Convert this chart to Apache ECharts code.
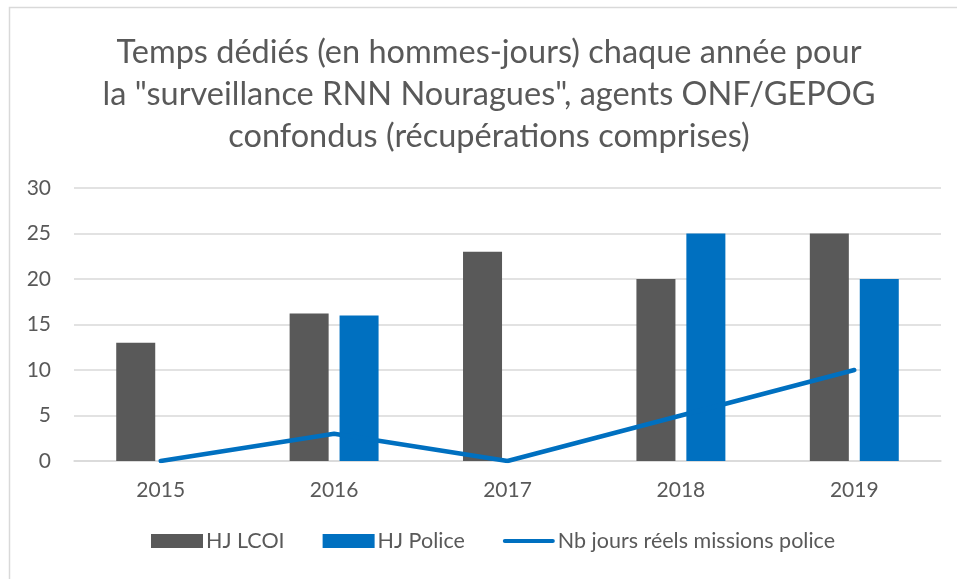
<!DOCTYPE html>
<html>
<head>
<meta charset="utf-8">
<script src="https://cdn.jsdelivr.net/npm/echarts@6/dist/echarts.min.js"></script>
<style>
  html, body { margin: 0; padding: 0; background: #fff; }
  #chart { width: 957px; height: 579px; }
</style>
</head>
<body>
<div id="chart"></div>
<script>
// données
const annees = ["2015", "2016", "2017", "2018", "2019"];
const hjLcoi = [13, 16.2, 23, 20, 25];
const hjPolice = [null, 16, null, 25, 20];
const joursMissions = [0, 3, 0, 5, 10];
const yTicks = { min: 0, max: 30, interval: 5 };

const police = "Lato, 'Open Sans', sans-serif";
const gris = "#595959";
// trait arrondi pour la légende de la courbe (boîte 52x14)
const iconeTrait = "path://M0,0M52,14M2,5L50,5Q52,5 52,7Q52,9 50,9L2,9Q0,9 0,7Q0,5 2,5Z";

const chart = echarts.init(document.getElementById("chart"));

const option = {
  animation: false,
  textStyle: { fontFamily: police },
  graphic: [
    {
      type: "rect",
      shape: { x: 9.5, y: 7.5, width: 1000, height: 1000 },
      style: { fill: "none", stroke: "#d9d9d9", lineWidth: 1.5 },
      silent: true
    }
  ],
  title: {
    text: 'Temps dédiés (en hommes-jours) chaque année pour\nla "surveillance RNN Nouragues", agents ONF/GEPOG\nconfondus (récupérations comprises)',
    left: 484,
    textAlign: "center",
    top: 27,
    textStyle: {
      fontFamily: police,
      fontSize: 32.5,
      fontWeight: "normal",
      color: gris,
      lineHeight: 42
    }
  },
  grid: { left: 74, right: 16, top: 188, bottom: 118 },
  legend: {
    bottom: 22,
    left: 146,
    itemWidth: 52,
    itemHeight: 14,
    itemGap: 38,
    textStyle: { fontFamily: police, fontSize: 21.5, color: gris, padding: [0, 0, 0, -2] },
    data: [
      { name: "HJ LCOI", icon: "rect" },
      { name: "HJ Police", icon: "rect" },
      { name: "Nb jours réels missions police", icon: iconeTrait }
    ]
  },
  xAxis: {
    type: "category",
    data: annees,
    axisLine: { lineStyle: { color: "#d9d9d9", width: 1.5 } },
    axisTick: { show: false },
    axisLabel: { color: gris, fontSize: 21, margin: 19, fontFamily: police }
  },
  yAxis: {
    type: "value",
    min: yTicks.min,
    max: yTicks.max,
    interval: yTicks.interval,
    axisLine: { show: false },
    axisTick: { show: false },
    splitLine: { lineStyle: { color: "#d9d9d9", width: 1.5 } },
    axisLabel: { color: gris, fontSize: 21, margin: 23, fontFamily: police }
  },
  series: [
    {
      name: "HJ LCOI",
      type: "bar",
      data: hjLcoi,
      barWidth: "22.5%",
      barGap: "28%",
      itemStyle: { color: "#595959" }
    },
    {
      name: "HJ Police",
      type: "bar",
      data: hjPolice,
      barWidth: "22.5%",
      itemStyle: { color: "#0070c0" }
    },
    {
      name: "Nb jours réels missions police",
      type: "line",
      data: joursMissions,
      symbol: "none",
      itemStyle: { color: "#0070c0" },
      lineStyle: { color: "#0070c0", width: 4.5, cap: "round", join: "round" },
      z: 5
    }
  ]
};

chart.setOption(option);
</script>
</body>
</html>
